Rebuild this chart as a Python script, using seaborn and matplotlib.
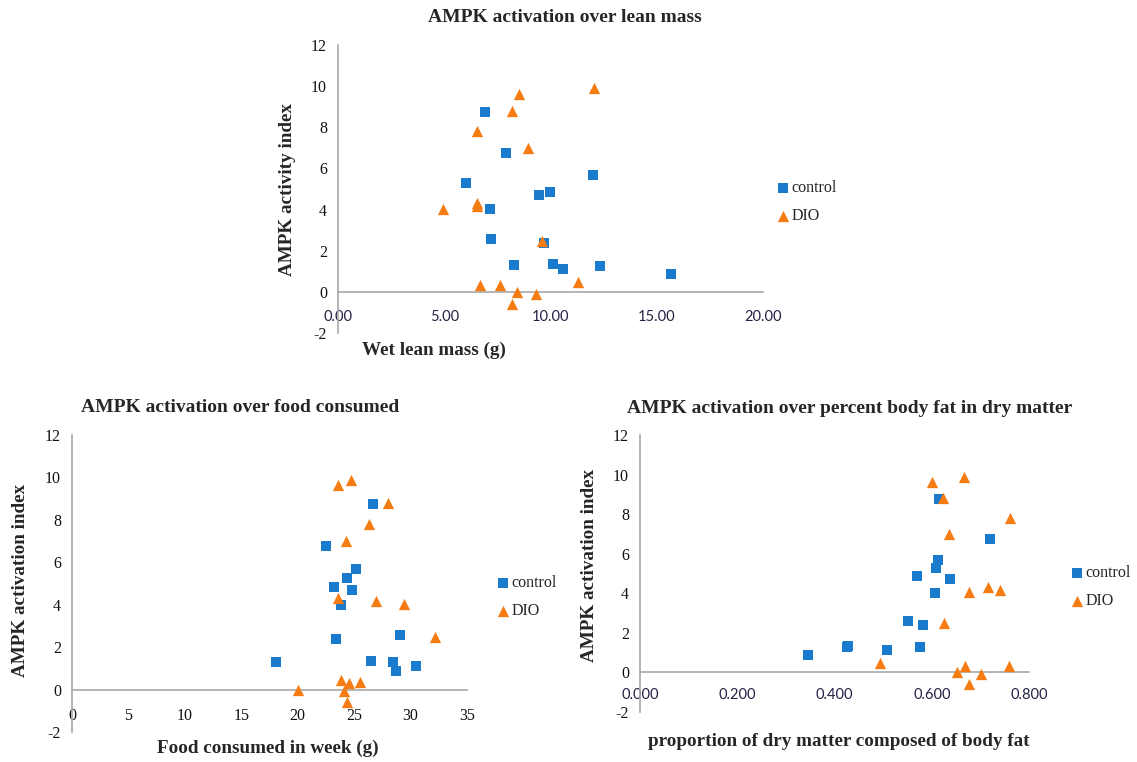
import matplotlib
matplotlib.use("Agg")
import matplotlib.pyplot as plt
import seaborn as sns
import pandas as pd

# AMPK activity index, one value per animal, shared by the three panels
ampk_control = [8.75, 6.76, 5.27, 4.71, 4.85, 5.68, 4.01, 2.59, 2.39, 1.29, 1.36, 1.13, 1.28, 0.89]
ampk_dio = [9.62, 9.89, 8.80, 7.81, 7.00, 4.33, 4.19, 4.05, 2.49, 0.46, 0.32, 0.34, 0.00, -0.08, -0.60]

# wet lean mass (g)
lean_control = [6.90, 7.92, 6.04, 9.45, 9.96, 12.00, 7.13, 7.21, 9.69, 8.28, 10.14, 10.58, 12.34, 15.65]
lean_dio = [8.51, 12.07, 8.20, 6.55, 8.92, 6.52, 6.52, 4.94, 9.61, 11.29, 6.68, 7.64, 8.44, 9.34, 8.17]

# food consumed in week (g)
food_control = [26.7, 22.5, 24.4, 24.85, 23.2, 25.2, 23.8, 29.1, 23.4, 18.1, 26.5, 30.5, 28.4, 28.7]
food_dio = [23.6, 24.7, 28.0, 26.3, 24.3, 23.55, 26.95, 29.4, 32.2, 23.8, 24.5, 25.5, 20.0, 24.1, 24.4]

# proportion of dry matter composed of body fat
fat_control = [0.614, 0.719, 0.608, 0.638, 0.569, 0.612, 0.606, 0.551, 0.582, 0.425, 0.428, 0.508, 0.575, 0.345]
fat_dio = [0.601, 0.667, 0.624, 0.760, 0.636, 0.715, 0.740, 0.676, 0.625, 0.494, 0.668, 0.758, 0.652, 0.702, 0.676]

groups = ["control", "DIO"]
y_ticks = [-2, 0, 2, 4, 6, 8, 10, 12]

PALETTE = {"control": "#1a7bcc", "DIO": "#f47c12"}
MARKERS = {"control": "s", "DIO": "^"}
SIZES = {"control": 55, "DIO": 66}
SPINE = "#a8a8a8"
SERIF = "Liberation Serif"
SANS = "Lato"

W, H = 1137, 762

sns.set_style("white")
plt.rcParams["font.family"] = [SERIF, "DejaVu Sans"]

fig = plt.figure(figsize=(W / 100, H / 100), dpi=100)


def px_rect(left, top, right, bottom):
    return [left / W, 1 - bottom / H, (right - left) / W, (bottom - top) / H]


def fig_xy(x, y):
    return x / W, 1 - y / H


def build_frame(x_control, x_dio):
    return pd.DataFrame({
        "x": list(x_control) + list(x_dio),
        "ampk": ampk_control + ampk_dio,
        "group": ["control"] * len(x_control) + ["DIO"] * len(x_dio),
    })


def draw_panel(rect, df, xlim, xticks, xlabels, xfont, xsize, xcolor, xpad, title, title_xy,
               xlabel, xlabel_xy, ylabel, ylabel_xy, legend_xy):
    ax = fig.add_axes(px_rect(*rect))
    for g in groups:
        sub = df[df["group"] == g]
        sns.scatterplot(data=sub, x="x", y="ampk", ax=ax, color=PALETTE[g],
                        marker=MARKERS[g], s=SIZES[g], linewidth=0, label=g,
                        zorder=3, clip_on=False)
    ax.set_xlabel("")
    ax.set_ylabel("")

    # spine position first: moving it resets the tick objects
    ax.spines["top"].set_visible(False)
    ax.spines["right"].set_visible(False)
    ax.spines["bottom"].set_position(("data", 0))
    for side in ["left", "bottom"]:
        ax.spines[side].set_color(SPINE)
        ax.spines[side].set_linewidth(1.2)

    ax.set_xlim(*xlim)
    ax.set_ylim(-2, 12)
    ax.set_xticks(xticks)
    ax.set_xticklabels(xlabels, fontfamily=xfont, fontsize=xsize, color=xcolor)
    ax.set_yticks(y_ticks)
    ax.set_yticklabels([str(t) for t in y_ticks], fontfamily=SERIF, fontsize=11.5,
                       color="#111111")
    ax.tick_params(axis="both", direction="out", length=4, width=1, color=SPINE)
    ax.tick_params(axis="x", pad=xpad)
    ax.tick_params(axis="y", pad=4)

    fig.text(*fig_xy(*title_xy), title, ha="center", va="center",
             fontsize=14, fontweight="bold", fontfamily=SERIF)
    fig.text(*fig_xy(*xlabel_xy), xlabel, ha="center", va="center",
             fontsize=13.8, fontweight="bold", fontfamily=SERIF)
    fig.text(*fig_xy(*ylabel_xy), ylabel, ha="center", va="center", rotation=90,
             fontsize=13.8, fontweight="bold", fontfamily=SERIF)

    sns.move_legend(ax, "center left", bbox_to_anchor=fig_xy(*legend_xy),
                    bbox_transform=fig.transFigure, frameon=False, title=None,
                    fontsize=11.5, handlelength=0.6, handletextpad=0.25,
                    labelspacing=0.75, borderpad=0, borderaxespad=0,
                    markerscale=1.0)
    return ax


# top: lean mass
draw_panel(rect=(338, 45, 763, 333),
           df=build_frame(lean_control, lean_dio),
           xlim=(0, 20), xticks=[0, 5, 10, 15, 20],
           xlabels=["0.00", "5.00", "10.00", "15.00", "20.00"], xfont=SANS, xsize=10.5,
           xcolor="#222244", xpad=9,
           title="AMPK activation over lean mass", title_xy=(565, 17),
           xlabel="Wet lean mass (g)", xlabel_xy=(434, 350),
           ylabel="AMPK activity index", ylabel_xy=(288, 190),
           legend_xy=(778, 202))

# bottom left: food consumed
draw_panel(rect=(72, 435, 467, 732),
           df=build_frame(food_control, food_dio),
           xlim=(0, 35), xticks=[0, 5, 10, 15, 20, 25, 30, 35],
           xlabels=["0", "5", "10", "15", "20", "25", "30", "35"], xfont=SERIF, xsize=11.5,
           xcolor="#111111", xpad=9,
           title="AMPK activation over food consumed", title_xy=(240, 407),
           xlabel="Food consumed in week (g)", xlabel_xy=(268, 748),
           ylabel="AMPK activation index", ylabel_xy=(21, 580),
           legend_xy=(498, 597))

# bottom right: body fat proportion
draw_panel(rect=(640, 435, 1029, 712),
           df=build_frame(fat_control, fat_dio),
           xlim=(0, 0.8), xticks=[0, 0.2, 0.4, 0.6, 0.8],
           xlabels=["0.000", "0.200", "0.400", "0.600", "0.800"], xfont=SANS, xsize=10.5,
           xcolor="#222244", xpad=7,
           title="AMPK activation over percent body fat in dry matter", title_xy=(850, 408),
           xlabel="proportion of dry matter composed of body fat", xlabel_xy=(839, 742),
           ylabel="AMPK activation index", ylabel_xy=(590, 565),
           legend_xy=(1072, 587))

fig.savefig("out.png", dpi=100, facecolor="white")
